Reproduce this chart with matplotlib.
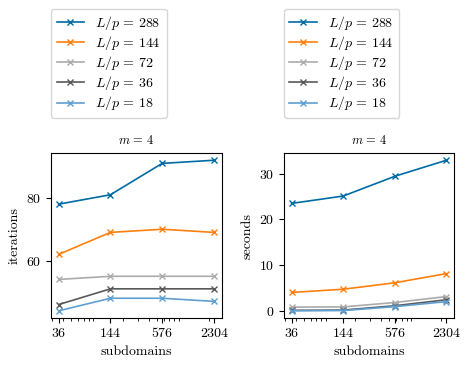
import matplotlib
matplotlib.use("Agg")
import matplotlib.pyplot as plt
from matplotlib.ticker import FixedLocator, FixedFormatter, NullFormatter

plt.rcParams['font.family'] = 'serif'
plt.rcParams['font.serif'] = ['cmr10']
plt.rcParams['mathtext.fontset'] = 'cm'
plt.rcParams['axes.formatter.use_mathtext'] = True
plt.rcParams['font.size'] = 10

# data
subdomains = [36, 144, 576, 2304]
ratios = [288, 144, 72, 36, 18]
colors = ['#006BA4', '#FF800E', '#ABABAB', '#595959', '#5F9ED1']

iterations = {
    288: [78, 81, 91, 92],
    144: [62, 69, 70, 69],
    72: [54, 55, 55, 55],
    36: [46, 51, 51, 51],
    18: [44, 48, 48, 47],
}
seconds = {
    288: [23.5, 25.1, 29.4, 32.9],
    144: [4.1, 4.8, 6.2, 8.2],
    72: [0.9, 0.95, 1.9, 3.2],
    36: [0.2, 0.25, 1.2, 2.5],
    18: [0.1, 0.15, 1.0, 2.1],
}

fig = plt.figure(figsize=(4.7, 3.68), dpi=100)
ax1 = fig.add_axes([0.1085, 0.135, 0.363, 0.45])
ax2 = fig.add_axes([0.604, 0.135, 0.362, 0.45])

for ax, data, ylab, lx in [(ax1, iterations, 'iterations', 0.1085),
                           (ax2, seconds, 'seconds', 0.604)]:
    for r, c in zip(ratios, colors):
        ax.plot(subdomains, data[r], marker='x', color=c, lw=1.2, ms=5,
                label=r'$L/p\,=\,%d$' % r)
    ax.set_xscale('log')
    ax.xaxis.set_major_locator(FixedLocator(subdomains))
    ax.xaxis.set_major_formatter(FixedFormatter([str(s) for s in subdomains]))
    ax.xaxis.set_minor_formatter(NullFormatter())
    ax.set_xlabel('subdomains')
    ax.set_ylabel(ylab)
    ax.set_title(r'$m\,=\,4$', fontsize=9)
    ax.legend(loc='lower left', bbox_to_anchor=(lx, 1 - 118 / 368),
              bbox_transform=fig.transFigure, borderaxespad=0,
              labelspacing=0.15)

ax1.set_yticks([60, 80])

fig.savefig('out.png', dpi=100)
